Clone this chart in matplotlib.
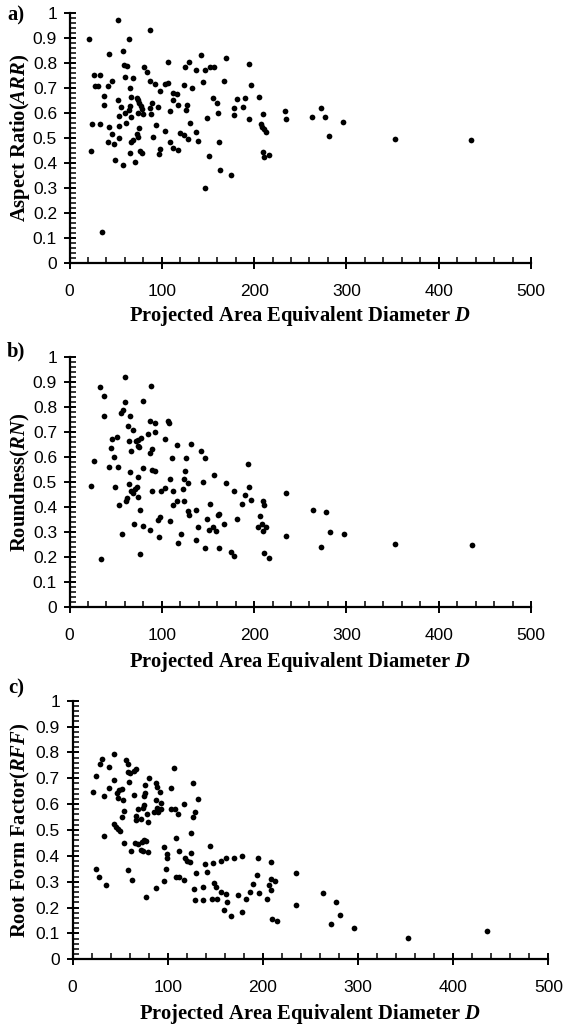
import matplotlib
matplotlib.use("Agg")
import matplotlib.pyplot as plt
from matplotlib.ticker import MultipleLocator, FuncFormatter

# --- data ---
ar_x = [52.4, 87.3, 21.5, 64.4, 57.5, 42.5, 142.5, 169.5, 106.9, 129.8, 194.2, 59.3, 62.5,
        80.4, 125.1, 152.0, 156.4, 136.7, 146.9, 84.4, 26.9, 33.5, 59.6, 68.7, 46.5, 87.3,
        145.1, 167.3, 27.9, 30.9, 42.2, 92.7, 104.0, 106.9, 124.0, 196.7, 65.1, 132.4, 98.5,
        111.6, 116.7, 37.8, 66.2, 72.7, 74.2, 112.0, 52.4, 156.0, 205.1, 181.5, 190.5, 159.3,
        75.3, 89.5, 37.8, 55.3, 65.8, 77.5, 96.0, 117.5, 127.3, 178.5, 187.6, 87.3, 78.5,
        64.4, 126.5, 108.7, 74.2, 79.6, 88.7, 161.1, 178.5, 209.5, 53.1, 59.6, 66.9, 149.5,
        194.2, 24.0, 33.5, 60.7, 130.5, 207.6, 93.5, 42.9, 53.8, 209.0, 210.9, 75.0, 104.0,
        136.7, 120.0, 213.1, 45.8, 72.7, 74.2, 124.4, 90.5, 53.1, 128.7, 69.1, 66.5, 42.2,
        48.0, 139.6, 161.5, 108.7, 112.0, 117.8, 97.8, 23.6, 76.7, 78.5, 65.8, 96.7, 151.3,
        209.5, 210.2, 216.0, 49.5, 70.5, 57.5, 163.3, 174.9, 146.9, 34.9,
        233.8, 234.3, 263.2, 272.2, 276.9, 296.8, 281.2, 352.3, 435.4]
ar_y = [0.973, 0.933, 0.896, 0.896, 0.849, 0.836, 0.833, 0.823, 0.807, 0.805, 0.796, 0.793, 0.789,
        0.787, 0.787, 0.784, 0.784, 0.773, 0.773, 0.765, 0.753, 0.753, 0.747, 0.743, 0.729, 0.729,
        0.727, 0.731, 0.711, 0.711, 0.711, 0.717, 0.717, 0.720, 0.713, 0.713, 0.703, 0.703, 0.689,
        0.681, 0.676, 0.671, 0.664, 0.660, 0.653, 0.653, 0.653, 0.660, 0.667, 0.657, 0.660, 0.640,
        0.640, 0.640, 0.633, 0.627, 0.631, 0.631, 0.627, 0.633, 0.633, 0.620, 0.624, 0.620, 0.619,
        0.613, 0.613, 0.611, 0.603, 0.597, 0.597, 0.600, 0.593, 0.597, 0.589, 0.603, 0.587, 0.580,
        0.577, 0.557, 0.557, 0.560, 0.560, 0.557, 0.553, 0.547, 0.549, 0.547, 0.536, 0.540, 0.531,
        0.527, 0.523, 0.524, 0.517, 0.516, 0.507, 0.513, 0.504, 0.500, 0.497, 0.493, 0.487, 0.487,
        0.477, 0.491, 0.487, 0.484, 0.463, 0.452, 0.456, 0.451, 0.451, 0.443, 0.440, 0.437, 0.429,
        0.447, 0.427, 0.433, 0.413, 0.407, 0.393, 0.373, 0.353, 0.300, 0.125,
        0.611, 0.576, 0.584, 0.620, 0.584, 0.567, 0.511, 0.497, 0.493]

rn_x = [60.4, 88.0, 32.7, 37.1, 80.0, 60.0, 58.2, 55.6, 65.5, 37.1, 87.6, 92.4, 106.2, 107.3,
        63.6, 68.4, 92.7, 84.7, 46.5, 52.0, 77.1, 74.5, 71.6, 64.7, 103.6, 74.2, 75.3, 116.4,
        131.6, 45.5, 66.2, 89.1, 87.6, 142.2, 48.4, 110.9, 126.2, 146.9, 26.5, 193.8, 42.9,
        52.7, 80.0, 89.1, 93.1, 65.5, 125.1, 74.5, 109.1, 124.4, 156.7, 64.0, 128.0, 145.1,
        169.5, 23.6, 49.1, 73.1, 70.5, 103.3, 66.2, 68.7, 99.3, 89.8, 111.6, 123.3, 178.5,
        194.2, 74.5, 61.8, 61.1, 190.5, 196.7, 234.2, 116.7, 124.4, 53.8, 111.6, 152.0, 186.5,
        209.5, 210.5, 76.4, 128.0, 137.1, 129.5, 161.5, 160.7, 206.5, 148.7, 181.5, 98.5, 96.0,
        108.7, 70.2, 79.3, 167.6, 208.7, 204.4, 213.1, 139.6, 209.5, 155.6, 150.9, 158.5, 86.9,
        121.1, 57.1, 96.7, 234.5, 136.7, 117.1, 146.9, 162.5, 174.5, 178.5, 210.2, 216.0, 76.0,
        34.5, 263.9, 277.6, 282.0, 297.1, 272.9, 353.1, 435.7]
rn_y = [0.923, 0.887, 0.880, 0.847, 0.827, 0.820, 0.789, 0.776, 0.767, 0.764, 0.745, 0.736, 0.747,
        0.737, 0.724, 0.711, 0.701, 0.693, 0.675, 0.683, 0.679, 0.669, 0.667, 0.665, 0.675, 0.645,
        0.640, 0.648, 0.652, 0.636, 0.625, 0.635, 0.619, 0.627, 0.603, 0.599, 0.599, 0.596, 0.587,
        0.572, 0.563, 0.563, 0.559, 0.549, 0.545, 0.543, 0.547, 0.523, 0.512, 0.513, 0.529, 0.493,
        0.496, 0.500, 0.496, 0.487, 0.480, 0.483, 0.473, 0.476, 0.464, 0.459, 0.467, 0.464, 0.464,
        0.472, 0.467, 0.483, 0.440, 0.436, 0.427, 0.448, 0.429, 0.456, 0.424, 0.427, 0.411, 0.411,
        0.415, 0.415, 0.427, 0.411, 0.391, 0.384, 0.388, 0.371, 0.373, 0.368, 0.364, 0.353, 0.352,
        0.361, 0.349, 0.344, 0.332, 0.324, 0.332, 0.335, 0.320, 0.320, 0.321, 0.307, 0.323, 0.308,
        0.304, 0.308, 0.295, 0.292, 0.283, 0.285, 0.268, 0.259, 0.236, 0.239, 0.221, 0.205, 0.216,
        0.196, 0.213, 0.193, 0.391, 0.381, 0.301, 0.292, 0.243, 0.252, 0.249]

rff_x = [43.5, 30.9, 55.8, 29.1, 58.6, 37.9, 106.7, 66.3, 64.2, 57.9, 60.0, 24.6, 80.4, 43.5,
         59.6, 88.1, 126.3, 76.5, 89.1, 37.9, 52.3, 103.2, 48.8, 21.8, 46.3, 64.9, 92.3, 76.1,
         33.3, 75.4, 48.1, 53.3, 87.4, 131.9, 116.8, 93.3, 74.7, 69.1, 88.4, 93.3, 103.9, 107.4,
         53.7, 74.4, 85.3, 90.2, 78.2, 110.9, 128.8, 67.0, 52.3, 126.3, 66.7, 71.9, 79.6, 43.2,
         45.3, 47.7, 50.2, 33.3, 124.9, 108.4, 75.1, 54.4, 65.6, 68.8, 72.6, 76.8, 144.6, 96.5,
         71.6, 61.8, 74.0, 79.6, 112.3, 124.9, 98.9, 99.3, 117.9, 120.4, 123.9, 177.9, 169.8,
         161.1, 194.7, 156.1, 209.1, 138.9, 147.4, 24.2, 57.9, 97.9, 129.8, 141.8, 194.0, 27.4,
         108.4, 112.0, 117.2, 62.1, 35.4, 95.8, 208.1, 212.3, 189.5, 206.7, 148.8, 150.5, 136.8,
         87.7, 127.4, 208.4, 156.5, 161.4, 187.0, 196.5, 174.4, 76.8, 181.8, 129.1, 136.8, 146.3,
         151.6, 162.8, 204.9, 158.9, 178.6, 167.0, 234.4, 234.4, 209.5, 215.1,
         263.5, 276.8, 281.4, 271.2, 295.8, 353.0, 435.1]
rff_y = [0.795, 0.773, 0.769, 0.754, 0.754, 0.745, 0.740, 0.735, 0.729, 0.723, 0.722, 0.709, 0.702,
         0.693, 0.687, 0.680, 0.683, 0.675, 0.668, 0.664, 0.660, 0.664, 0.655, 0.647, 0.642, 0.635,
         0.647, 0.642, 0.630, 0.631, 0.622, 0.617, 0.617, 0.621, 0.599, 0.603, 0.597, 0.582, 0.585,
         0.582, 0.582, 0.581, 0.575, 0.584, 0.568, 0.568, 0.563, 0.561, 0.570, 0.555, 0.549, 0.552,
         0.540, 0.541, 0.531, 0.522, 0.513, 0.505, 0.497, 0.478, 0.488, 0.468, 0.460, 0.451, 0.448,
         0.446, 0.454, 0.459, 0.439, 0.436, 0.423, 0.420, 0.420, 0.415, 0.418, 0.411, 0.406, 0.393,
         0.392, 0.380, 0.375, 0.398, 0.392, 0.392, 0.392, 0.379, 0.378, 0.369, 0.371, 0.348, 0.345,
         0.348, 0.335, 0.338, 0.325, 0.318, 0.318, 0.318, 0.308, 0.308, 0.289, 0.302, 0.311, 0.302,
         0.291, 0.289, 0.294, 0.280, 0.281, 0.276, 0.272, 0.269, 0.260, 0.253, 0.259, 0.255, 0.249,
         0.242, 0.232, 0.228, 0.229, 0.232, 0.232, 0.223, 0.232, 0.191, 0.183, 0.166, 0.332, 0.209,
         0.155, 0.147, 0.258, 0.222, 0.171, 0.135, 0.122, 0.082, 0.108]

panel_tags = ["a)", "b)", "c)"]
ylabels = ["Aspect Ratio($ARR$)", "Roundness($RN$)", "Root Form Factor($RFF$)"]
xlabel = "Projected Area Equivalent Diameter $D$"

# --- fonts ---
plt.rcParams["font.family"] = "Liberation Sans"
plt.rcParams["mathtext.fontset"] = "custom"
plt.rcParams["mathtext.rm"] = "Liberation Serif:bold"
plt.rcParams["mathtext.it"] = "Liberation Serif:bold:italic"
label_font = dict(fontfamily="Liberation Serif", fontweight="bold", fontsize=14.8)

W, H = 566, 1034
fig = plt.figure(figsize=(W / 100, H / 100), dpi=100)

# axes boxes in pixels: left, right, top(y=1), bottom(y=0)
boxes = [(69.5, 531.0, 13.3, 263.3),
         (69.5, 531.0, 357.3, 607.3),
         (72.5, 548.3, 700.7, 959.3)]
xlab_y = [316, 662, 1014]
tag_y = [15, 351, 688]

datasets = [(ar_x, ar_y), (rn_x, rn_y), (rff_x, rff_y)]

for i, (xs, ys) in enumerate(datasets):
    l, r, t, b = boxes[i]
    ax = fig.add_axes([l / W, 1 - b / H, (r - l) / W, (b - t) / H])
    ax.scatter(xs, ys, s=17, color="black", linewidths=0, clip_on=False, zorder=3)
    ax.set_xlim(0, 500)
    ax.set_ylim(0, 1)
    ax.spines["top"].set_visible(False)
    ax.spines["right"].set_visible(False)
    ax.spines["left"].set_linewidth(1.6)
    ax.spines["bottom"].set_linewidth(1.6)

    ax.xaxis.set_major_locator(MultipleLocator(100))
    ax.xaxis.set_minor_locator(MultipleLocator(20))
    ax.yaxis.set_major_locator(MultipleLocator(0.1))
    ax.yaxis.set_minor_locator(MultipleLocator(0.02))
    ax.yaxis.set_major_formatter(FuncFormatter(lambda v, p: "%g" % round(v, 1)))

    ax.tick_params(which="major", direction="inout", length=8, width=1.4,
                   labelsize=12.5, colors="black")
    ax.tick_params(which="minor", direction="in", length=4, width=1.1)
    ax.tick_params(axis="x", which="major", pad=11)
    ax.tick_params(axis="y", which="major", pad=5)

    fig.text(20 / W, 1 - ((t + b) / 2) / H, ylabels[i], rotation=90,
             ha="center", va="center", **label_font)
    fig.text(((l + r) / 2) / W, 1 - xlab_y[i] / H, xlabel,
             ha="center", va="center", **label_font)
    fig.text(16 / W, 1 - tag_y[i] / H, panel_tags[i],
             ha="center", va="center", **label_font)

fig.savefig("out.png", dpi=100)
